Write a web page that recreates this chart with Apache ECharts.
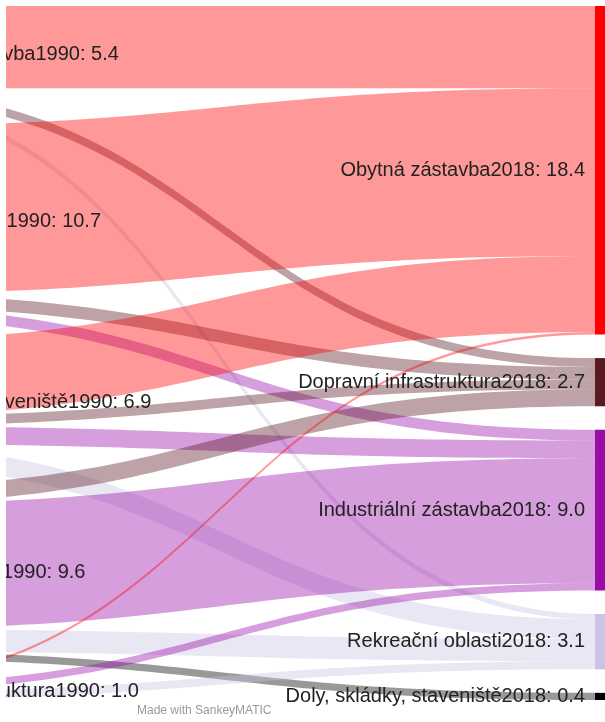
<!DOCTYPE html>
<html>
<head>
<meta charset="utf-8">
<script src="https://cdn.jsdelivr.net/npm/echarts@6/dist/echarts.min.js"></script>
<style>
  html, body { margin: 0; padding: 0; background: #fff; }
  #clip { position: absolute; left: 6px; top: 0; width: 599px; height: 722px; overflow: hidden; }
  #chart { position: absolute; left: -206px; top: 0; width: 805px; height: 722px; }
</style>
</head>
<body>
<div id="clip"><div id="chart"></div></div>
<script>
// uzly 1990 (vlevo) a 2018 (vpravo)
var leftNames = ['Industriální zástavba1990', 'Rekreační oblasti1990', 'Doly, skládky, staveniště1990', 'Obytná zástavba1990', 'Dopravní infrastruktura1990'];
var rightNames = ['Obytná zástavba2018', 'Dopravní infrastruktura2018', 'Industriální zástavba2018', 'Rekreační oblasti2018', 'Doly, skládky, staveniště2018'];
var leftColors = ['#990ca8', '#cbc3e3', '#000000', '#ff0000', '#5a1a22'];
var rightColors = ['#ff0000', '#5a1a22', '#990ca8', '#cbc3e3', '#000000'];

// toky: řádek = zdroj 1990, sloupec = cíl 2018
var flows = [
  [4.6, 0.5, 0, 0.3, 0],
  [9.4, 0.7, 0.6, 0, 0],
  [4.25, 0.55, 1.0, 1.1, 0],
  [0, 0.95, 7.0, 1.25, 0.4],
  [0.15, 0, 0.4, 0.45, 0]
];

var labelFont = '"Liberation Sans", Arial, Helvetica, sans-serif';

var nodes = [];
var links = [];
leftNames.forEach(function (name, i) {
  var total = flows[i].reduce(function (a, b) { return a + b; }, 0);
  nodes.push({
    name: name,
    value: total,
    itemStyle: { color: leftColors[i] },
    label: { position: 'right', distance: 5 }
  });
});
rightNames.forEach(function (name, j) {
  var total = 0;
  flows.forEach(function (row) { total += row[j]; });
  nodes.push({
    name: name,
    value: total,
    itemStyle: { color: rightColors[j] },
    label: { position: 'left', distance: 10 }
  });
});
flows.forEach(function (row, i) {
  row.forEach(function (v, j) {
    if (v > 0) {
      links.push({ source: leftNames[i], target: rightNames[j], value: v });
    }
  });
});

var chart = echarts.init(document.getElementById('chart'), null, { renderer: 'canvas' });
var option = {
  animation: false,
  backgroundColor: '#fff',
  title: {
    text: 'Made with SankeyMATIC',
    left: 337,
    top: 705,
    padding: 0,
    textStyle: { fontSize: 12, fontWeight: 'normal', color: '#999', fontFamily: labelFont }
  },
  series: [
    {
      type: 'sankey',
      left: 37,
      right: 0,
      top: 6,
      bottom: 22,
      nodeWidth: 10,
      nodeGap: 23.5,
      layoutIterations: 0,
      draggable: false,
      emphasis: { disabled: true },
      itemStyle: { borderWidth: 0 },
      lineStyle: { color: 'target', opacity: 0.4, curveness: 0.5 },
      label: {
        fontSize: 20,
        color: '#222',
        fontFamily: labelFont,
        formatter: function (p) {
          return p.name + ': ' + Number(p.value).toFixed(1);
        }
      },
      data: nodes,
      links: links
    }
  ]
};
chart.setOption(option);
</script>
</body>
</html>
